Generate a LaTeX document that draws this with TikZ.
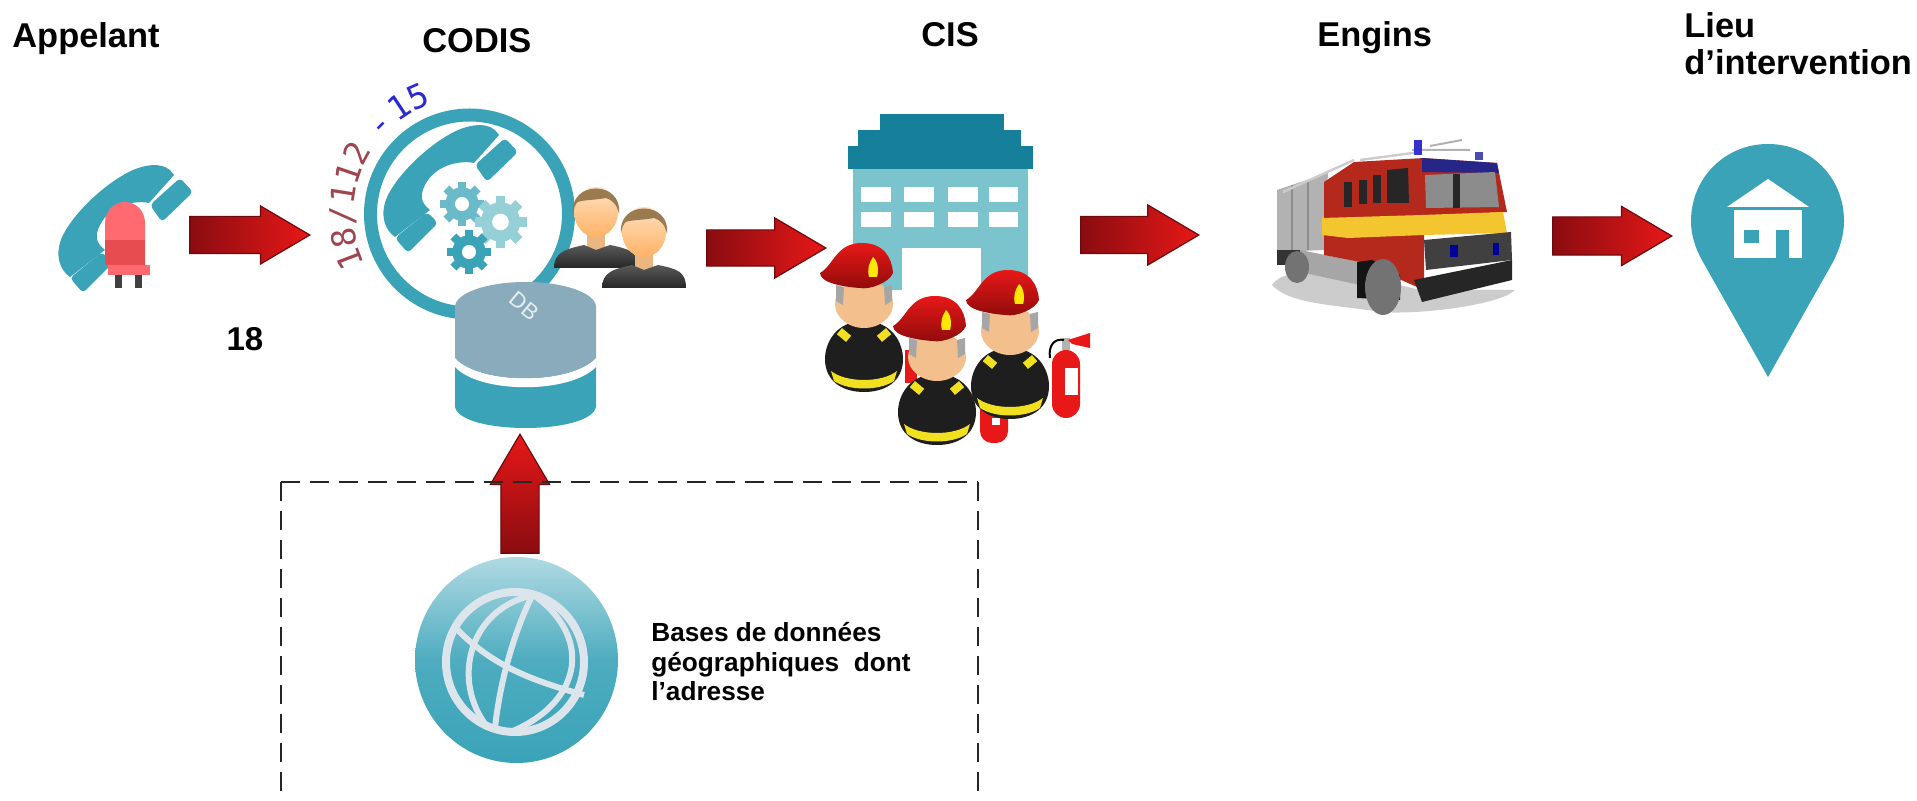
\documentclass[tikz,border=0pt]{standalone}
\usepackage{fontspec}
\setmainfont{Liberation Sans}
\newfontfamily\arcfont{DejaVu Sans Mono}
\usetikzlibrary{shapes.arrows,decorations.text}
\definecolor{teal1}{HTML}{3AA3B8}
\definecolor{bldroof}{HTML}{16809B}
\definecolor{bldbody}{HTML}{7CC4CD}
\definecolor{dbgrey}{HTML}{8AABBB}
\definecolor{arcred}{HTML}{A0454F}
\definecolor{arcblue}{HTML}{2A2AD0}
\definecolor{skin}{HTML}{F2BF8D}
\definecolor{hatred}{HTML}{CC1010}
\definecolor{firered}{HTML}{E81818}
\definecolor{arrowdark}{HTML}{8A0C10}
\definecolor{arrowedge}{HTML}{6E0A0E}
\definecolor{coat}{HTML}{1E1E1E}
\definecolor{stripe}{HTML}{F0E020}
\definecolor{gridw}{HTML}{DCE4EC}
\definecolor{hair}{HTML}{9A7B4F}
\definecolor{ledlight}{HTML}{FF6A70}
\definecolor{leddark}{HTML}{E64C50}
\definecolor{truckyellow}{HTML}{F3C52E}
\definecolor{truckred}{HTML}{B5281C}
\tikzset{
  blockarrow/.style={single arrow,anchor=tip,inner xsep=0pt,draw=arrowedge,line width=.6pt,
    single arrow head indent=0pt,single arrow tip angle=61},
  horiz/.style={left color=arrowdark,right color=firered},
  label/.style={font=\bfseries\fontsize{17.2}{18.5}\selectfont,anchor=base west,inner sep=0pt},
  small/.style={font=\bfseries\fontsize{13.1}{14.75}\selectfont,align=left,anchor=north west,inner sep=0pt},
  framed/.style={dashed,dash pattern=on 9.5pt off 5pt,line width=1pt,black!85},
}
\newcommand\phoneicon[2]{%
 \begin{scope}[shift={(#1,#2)}]
  \fill[teal1] (70,277) .. controls (60,270) and (57,258) .. (59,247)
     .. controls (62,225) and (100,185) .. (133,170) .. controls (145,165) and (160,162) .. (170,170)
     -- (174,175) -- (149,203) .. controls (135,200) and (110,205) .. (100,225)
     .. controls (95,235) and (95,242) .. (105,250) -- cycle;
  \fill[teal1,rounded corners=2pt] (150,205) -- (180,178) -- (193,192) -- (162,222) -- cycle;
  \fill[teal1,rounded corners=2pt] (70,278) -- (102,252) -- (113,263) -- (83,293) -- cycle;
 \end{scope}}
\newcommand\gearicon[4]{%
 \begin{scope}[shift={(#1,#2)}]
  \foreach \a in {0,45,...,315}
    \draw[#4,line width=#3*0.19pt] (\a:#3*0.5) -- (\a:#3);
  \fill[#4] (0,0) circle[radius=#3*0.76];
  \fill[white] (0,0) circle[radius=#3*0.32];
 \end{scope}}
\newcommand\personicon[2]{%
 \begin{scope}[shift={(#1,#2)}]
  \fill[skin!85!brown] (-9,12) rectangle (9,38);
  \shade[top color=black!65,bottom color=black!85] (-42,56) .. controls (-42,40) and (-30,37) .. (-12,33)
     -- (0,38) -- (14,33) .. controls (34,37) and (42,40) .. (42,56) -- cycle;
  \shade[top color=orange!25!white,bottom color=orange!60!white] (0,0) ellipse[x radius=22,y radius=25];
  \fill[hair] (-23,2) .. controls (-27,-32) and (27,-32) .. (23,2)
     .. controls (21,-8) and (16,-12) .. (10,-14) .. controls (0,-12) and (-14,-12) .. (-18,-10)
     .. controls (-21,-8) and (-22,-4) .. cycle;
 \end{scope}}
\newcommand\fireman[2]{%
 \begin{scope}[shift={(#1,#2)}]
  \fill[coat] (0,78) .. controls (28,78) and (39,100) .. (39,116) .. controls (39,138) and (22,149) .. (0,149)
     .. controls (-22,149) and (-39,138) .. (-39,116) .. controls (-39,100) and (-28,78) .. (0,78) -- cycle;
  \fill[stripe] (-33,128) .. controls (-18,140) and (18,140) .. (33,128) -- (30,138)
     .. controls (15,148) and (-15,148) .. (-30,138) -- cycle;
  \fill[stripe,rotate around={-40:(-20,92)}] (-26,88) rectangle (-14,96);
  \fill[stripe,rotate around={40:(20,92)}] (14,88) rectangle (26,96);
  \fill[skin] (0,61) ellipse[x radius=29,y radius=24];
  \fill[gray!70] (-28,42) -- (-20,44) -- (-21,62) -- (-28,58) -- cycle;
  \fill[gray!70] (28,42) -- (20,44) -- (21,62) -- (28,58) -- cycle;
  \shade[top color=firered,bottom color=hatred!70!black] (-44,30) .. controls (-30,22) and (-28,0) .. (-2,0)
     .. controls (20,0) and (28,15) .. (29,30) .. controls (25,40) and (5,47) .. (-4,45)
     .. controls (-20,44) and (-44,40) .. (-44,30) -- cycle;
  \fill[yellow!90!orange] (9,14) .. controls (14,18) and (15,28) .. (13,34) -- (5,34) .. controls (3,26) and (5,20) .. (9,14) -- cycle;
 \end{scope}}
\begin{document}
\begin{tikzpicture}[x=0.5pt,y=-0.5pt]
\useasboundingbox (0,0) rectangle (1917,801);
\fill[white] (0,0) rectangle (1917,801);

% dashed frame sides (they run off the bottom)
\draw[framed] (281,482) -- (281,801);
\draw[framed] (977.5,482) -- (977.5,801);

% labels
\node[label] (appelant) at (12,48) {Appelant};
\node[label] (codis) at (422,53) {CODIS};
\node[label] (cis) at (921,47) {CIS};
\node[label] (engins) at (1317,47) {Engins};
\node[label] (lieu) at (1684,38) {Lieu};
\node[label] (interv) at (1684,75) {d’intervention};
\node[font=\bfseries\fontsize{16.5}{18}\selectfont,inner sep=0pt] (dixhuit) at (245,339) {18};
\node[small] (bases) at (651,622) {Bases de données\\géographiques\ \ dont\\l’adresse};

% caller: phone + LED
\phoneicon{0}{0}
\fill[ledlight] (105,265) -- (105,223) .. controls (105,211) and (114,202) .. (125,202)
   .. controls (136,202) and (145,211) .. (145,223) -- (145,265) -- cycle;
\fill[leddark] (105,240) rectangle (145,265);
\fill[ledlight] (108,265) rectangle (150,275);
\fill[black!75] (115,275) rectangle (122,288);
\fill[black!75] (135,275) rectangle (142,288);

% CODIS ring
\draw[teal1,line width=6.5pt] (469.5,214) circle[radius=99];
\phoneicon{325}{-40}
\gearicon{462}{204}{22}{teal1!75!white}
\gearicon{500.5}{222}{26}{bldbody!80!white}
\gearicon{469}{252}{22}{teal1}
\personicon{596}{212}
\personicon{644}{232}

% curved number text
\path[postaction={decorate,decoration={text along path,
   text={|\arcfont\fontsize{16.5}{16.5}\selectfont\color{arcred}|18/112||%
         |\arcfont\fontsize{11}{11}\selectfont|{ }||%
         |\arcfont\fontsize{16.5}{16.5}\selectfont\color{arcblue}|-||%
         |\arcfont\fontsize{3}{3}\selectfont|{ }||%
         |\arcfont\fontsize{16.5}{16.5}\selectfont\color{arcblue}|15}}}]
   (364.8,263.9) .. controls (331.8,194.7) and (373.9,113.1) .. (449.4,99.8);

% database
\fill[teal1] (455,360) -- (596,360) -- (596,407)
   .. controls (590,435) and (461,435) .. (455,407) -- cycle;
\fill[white] (455,358) .. controls (480,385) and (570,385) .. (596,358) -- (596,367)
   .. controls (570,394) and (480,394) .. (455,367) -- cycle;
\fill[dbgrey] (455,307) -- (596,307)
   -- (596,358) .. controls (570,385) and (480,385) .. (455,358) -- cycle;
\fill[dbgrey] (525.5,307) ellipse[x radius=70.5,y radius=25];
\node[font=\fontsize{11}{11}\selectfont,text=white!80!dbgrey,rotate=-40,inner sep=0pt] (dbtext) at (524,306) {DB};

% fire station
\fill[bldbody] (853,169) rectangle (1028,290);
\fill[bldroof] (880,114) rectangle (1004,130);
\fill[bldroof] (858,130) rectangle (1021,146);
\fill[bldroof] (848,146) rectangle (1033,169);
\foreach \wx/\ww in {861/30,904/30,948/30,989/29}{
  \fill[white] (\wx,187) rectangle ++(\ww,15);
  \fill[white] (\wx,212) rectangle ++(\ww,15);
}
\fill[white] (902,248) rectangle (981,300);

% extinguishers
\fill[firered] (905,350) rectangle (917,383);
\fill[firered,rounded corners=6pt] (980,395) rectangle (1008,443);
\fill[white] (992,418) rectangle (1000,425);
\fill[firered,rounded corners=7pt] (1052,350) rectangle (1080,418);
\fill[white] (1065,368) rectangle (1078,395);
\fill[gray!60] (1062,338) rectangle (1070,350);
\fill[firered] (1068,340) -- (1090,333) -- (1090,348) -- (1072,344) -- cycle;
\draw[black,line width=1pt] (1050,358) .. controls (1048,345) and (1055,338) .. (1064,340);

% firefighters
\fireman{864}{243}
\fireman{1010}{270}
\fireman{937}{296}

% truck
\fill[black!20] (1272,285) .. controls (1285,265) and (1340,270) .. (1420,290) -- (1515,290)
   .. controls (1500,305) and (1420,315) .. (1380,312) .. controls (1340,305) and (1290,305) .. (1272,285) -- cycle;
\fill[black!30] (1277,190) -- (1328,173) -- (1324,250) -- (1277,252) -- cycle;
\draw[black!45,line width=.6pt] (1292,185) -- (1292,250) (1308,180) -- (1308,250);
\fill[black!80] (1277,250) rectangle (1300,265);
\fill[black!35] (1300,250) -- (1360,262) -- (1360,285) -- (1300,272) -- cycle;
\fill[black!55] (1297,267) ellipse[x radius=12,y radius=16];
\draw[black!20,line width=1.2pt] (1283,192) -- (1354,160) (1360,160) -- (1420,152);
\draw[black!30,line width=1pt] (1412,150) -- (1470,150) (1430,146) -- (1462,140);
\fill[truckred] (1324,182) -- (1354,162) -- (1424,158) -- (1424,290) -- (1360,262) -- (1324,255) -- cycle;
\fill[truckred] (1422,158) -- (1497,163) -- (1507,212) -- (1422,216) -- cycle;
\fill[blue!45!black!85!white] (1422,158) -- (1497,163) -- (1499,173) -- (1422,172) -- cycle;
\fill[black!45] (1425,175) -- (1495,172) -- (1499,207) -- (1426,208) -- cycle;
\fill[black!85] (1453,174) rectangle (1460,208);
\fill[black!85] (1387,170) -- (1408,168) -- (1409,203) -- (1387,203) -- cycle;
\fill[black!85] (1373,175) rectangle (1381,203);
\fill[black!85] (1359,180) rectangle (1367,204);
\fill[black!85] (1344,182) rectangle (1352,207);
\fill[truckyellow] (1322,218) -- (1422,215) -- (1503,212) -- (1507,233) -- (1424,235) -- (1348,238) -- (1322,235) -- cycle;
\fill[black!75] (1424,240) -- (1511,232) -- (1512,260) -- (1426,270) -- cycle;
\fill[blue!60!black] (1450,245) rectangle (1458,257);
\fill[blue!60!black] (1493,243) rectangle (1499,255);
\fill[black!85] (1414,280) -- (1512,260) -- (1512,280) -- (1422,302) -- cycle;
\fill[black!92] (1357,262) -- (1372,260) -- (1400,275) -- (1400,300) -- (1357,298) -- cycle;
\fill[black!55] (1383,287) ellipse[x radius=18,y radius=28];
\fill[blue!60!gray] (1414,140) rectangle (1422,155);
\fill[blue!40!gray] (1475,152) rectangle (1483,160);

% location pin
\fill[teal1] (1768,377) -- (1703,262) .. controls (1695,248) and (1691,235) .. (1691,221)
   .. controls (1691,178) and (1725,144) .. (1768,144)
   .. controls (1811,144) and (1844,178) .. (1844,221)
   .. controls (1844,235) and (1840,248) .. (1833,262) -- cycle;
\fill[white] (1768,179) -- (1809,207) -- (1727,207) -- cycle;
\fill[white] (1734,210) rectangle (1802,258);
\fill[teal1] (1744,230) rectangle (1758.6,243);
\fill[teal1] (1776,230) rectangle (1789,258);

% globe
\shade[top color=teal1!40!white,bottom color=teal1,middle color=teal1!90!white] (516.5,660) ellipse[x radius=101.5,y radius=103];
\draw[gridw,line width=4pt] (515,662) ellipse[x radius=69,y radius=70];
\draw[gridw,line width=3pt] (532,596) .. controls (515,630) and (500,680) .. (495,728);
\draw[gridw,line width=3pt] (530,596) .. controls (470,610) and (450,680) .. (488,728);
\draw[gridw,line width=3pt] (535,596) .. controls (595,640) and (580,705) .. (508,733);
\draw[gridw,line width=3pt] (453,625) .. controls (490,665) and (530,680) .. (584,695);

% block arrows
\node[blockarrow,horiz,inner ysep=9pt,minimum height=60pt,single arrow head extend=5.25pt] (a1) at (311,235) {};
\node[blockarrow,horiz,inner ysep=8.75pt,minimum height=59.5pt,single arrow head extend=6pt] (a2) at (827,248) {};
\node[blockarrow,horiz,inner ysep=9pt,minimum height=59pt,single arrow head extend=5.75pt] (a3) at (1200,235) {};
\node[blockarrow,horiz,inner ysep=9.25pt,minimum height=59.5pt,single arrow head extend=5.25pt] (a4) at (1673,236) {};
\node[blockarrow,bottom color=arrowdark,top color=firered,shape border rotate=90,
      inner xsep=9.25pt,inner ysep=0pt,minimum height=59.5pt,single arrow head extend=5.25pt] (a5) at (520,433) {};
% frame top runs over the arrow
\draw[framed] (281,482) -- (977.5,482);
\end{tikzpicture}
\end{document}
